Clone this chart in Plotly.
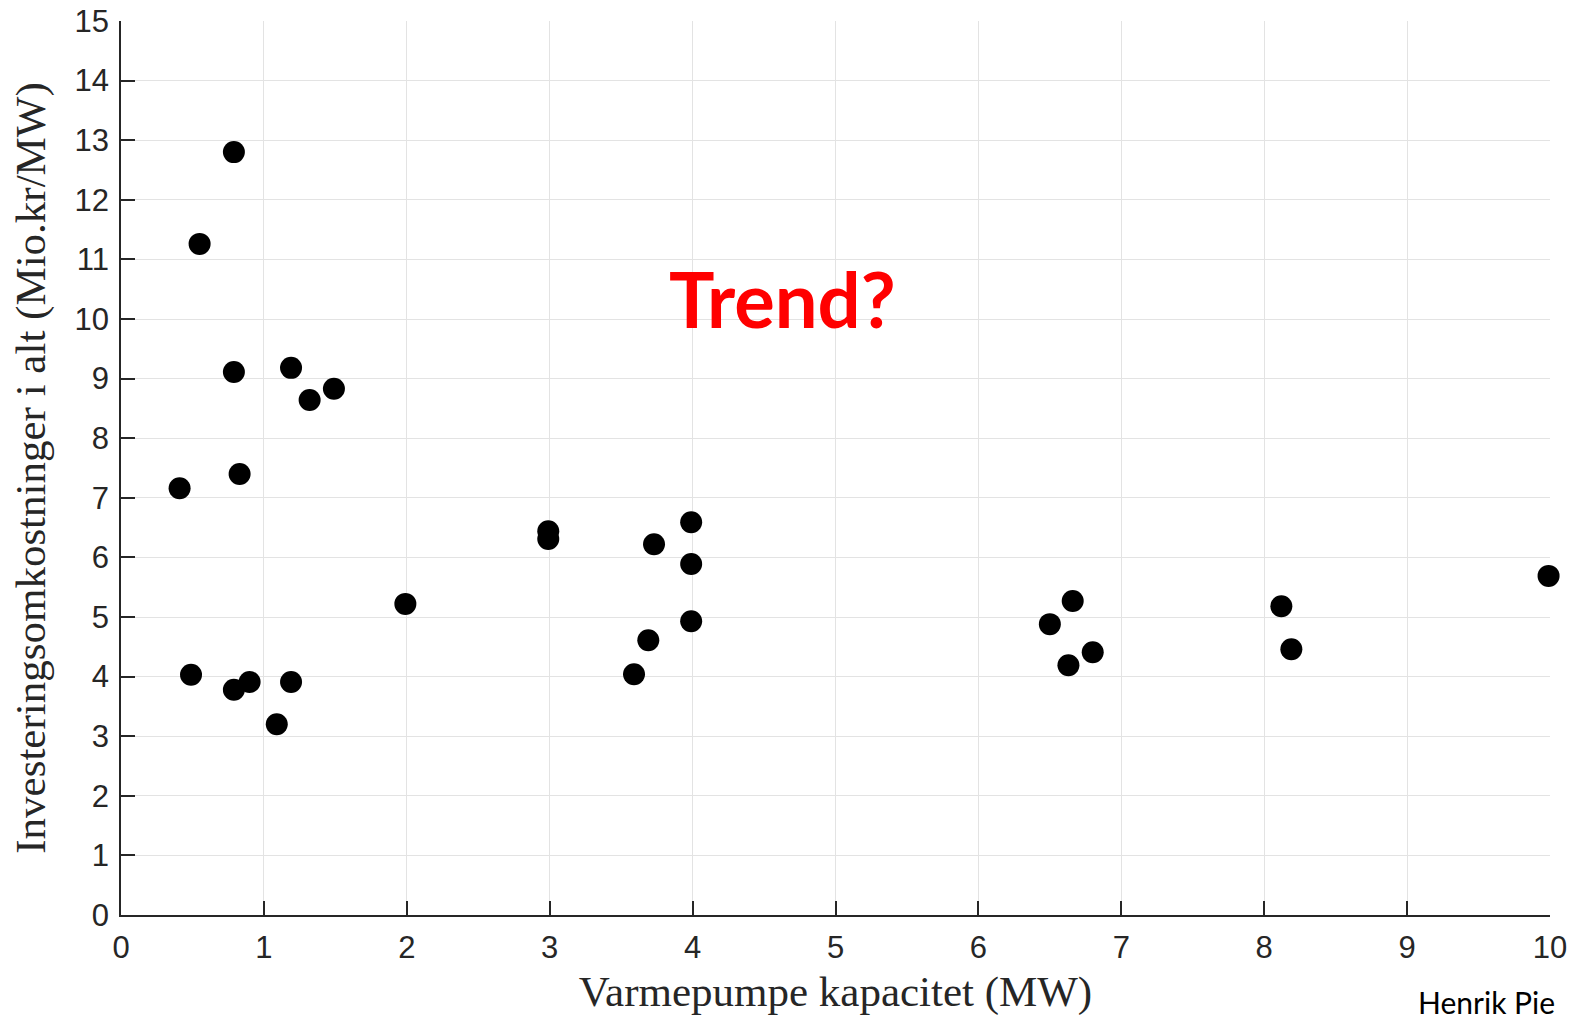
import plotly.graph_objects as go

capacity_mw = [0.79, 0.55, 0.79, 1.19, 1.32, 1.49, 0.41, 0.83, 2.99, 2.99,
               3.73, 3.99, 3.99, 1.99, 3.99, 3.69, 3.59, 0.49, 0.79, 0.90,
               1.19, 1.09, 6.50, 6.66, 6.63, 6.80, 8.12, 8.19, 9.99]
cost_mio_per_mw = [12.80, 11.26, 9.11, 9.18, 8.64, 8.83, 7.16, 7.40, 6.44, 6.31,
                   6.22, 6.59, 5.89, 5.22, 4.93, 4.61, 4.04, 4.03, 3.78, 3.91,
                   3.91, 3.20, 4.88, 5.27, 4.19, 4.41, 5.18, 4.46, 5.69]

x_ticks = list(range(0, 11))
y_ticks = list(range(0, 16))

fig = go.Figure()
fig.add_trace(go.Scatter(
    x=capacity_mw, y=cost_mio_per_mw, mode="markers",
    marker=dict(color="black", size=22, line=dict(width=0)),
    cliponaxis=False, showlegend=False,
))

axis_common = dict(
    showgrid=True, gridcolor="#e3e3e3", gridwidth=1,
    showline=True, linecolor="#262626", linewidth=1.5,
    ticks="inside", ticklen=14, tickwidth=1.5, tickcolor="#262626",
    tickfont=dict(family="Liberation Sans, Arial", size=31, color="#262626"),
    zeroline=False, mirror=False, automargin=False,
)

fig.update_layout(
    width=1571, height=1019,
    margin=dict(l=121, r=21, t=21, b=104),
    paper_bgcolor="white", plot_bgcolor="white",
    xaxis=dict(range=[0, 10], tickvals=x_ticks, ticktext=[str(v) for v in x_ticks],
               ticklabelstandoff=4,
               title=dict(text="Varmepumpe kapacitet (MW)", standoff=12,
                          font=dict(family="Liberation Serif, serif", size=43, color="#262626")),
               **axis_common),
    yaxis=dict(range=[0, 15], tickvals=y_ticks, ticktext=[str(v) for v in y_ticks],
               ticklabelstandoff=4,
               title=dict(text="Investeringsomkostninger i alt (Mio.kr/MW)", standoff=16,
                          font=dict(family="Liberation Serif, serif", size=43, color="#262626")),
               **axis_common),
    annotations=[
        dict(text="<b>Trend?</b>", x=4.63, y=10.35, xref="x", yref="y",
             showarrow=False, font=dict(family="Lato, Open Sans", size=76, color="#ff0000")),
        dict(text="Henrik Pie", x=0, y=0, xref="paper", yref="paper",
             showarrow=False, font=dict(family="Lato, Open Sans", size=30, color="black")),
    ],
)
plot_w = 1571 - 121 - 21
plot_h = 1019 - 21 - 104
fig.layout.annotations[1].update(x=(1416 - 121) / plot_w, y=(915 - 1002) / plot_h,
                                 xanchor="left", yanchor="middle")

fig.write_html("out.html")
